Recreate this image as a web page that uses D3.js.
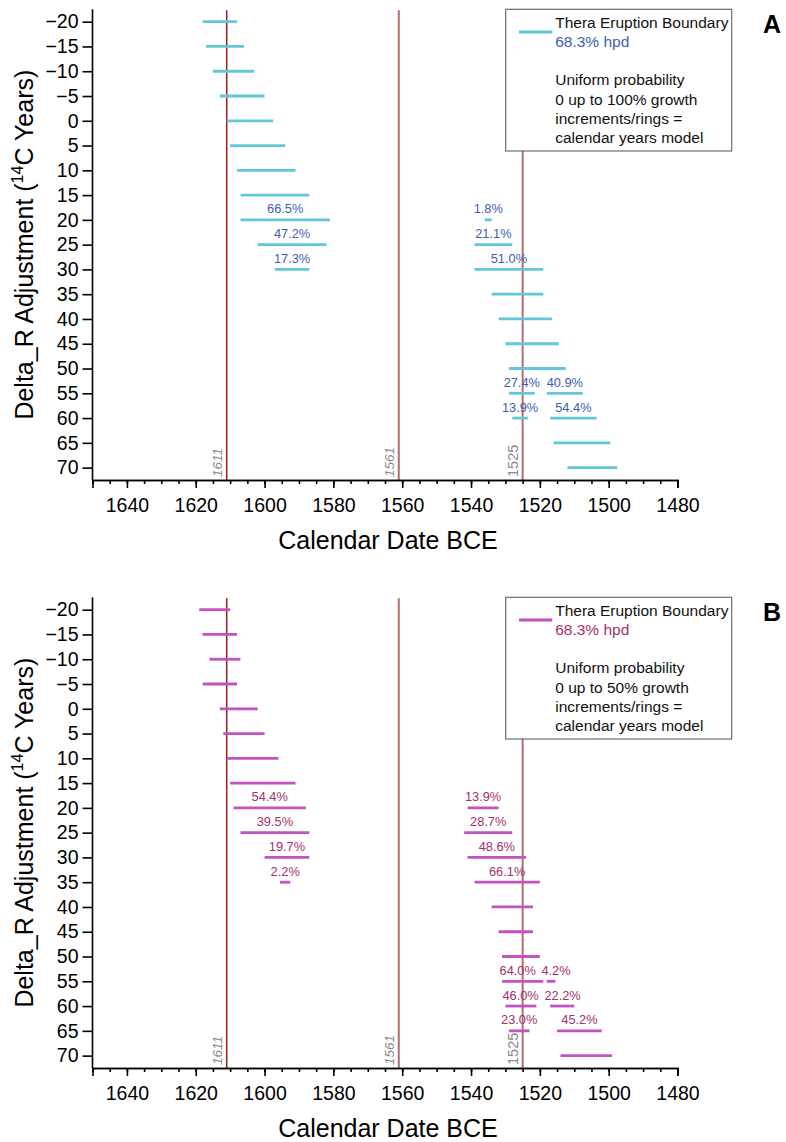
<!DOCTYPE html>
<html>
<head>
<meta charset="utf-8">
<script src="https://cdn.jsdelivr.net/npm/d3@7"></script>
<style>
  body { margin: 0; background: #fff; }
  svg { font-family: Arial, "Liberation Sans", sans-serif; }
</style>
</head>
<body>
<script>
// panel A: 0 up to 100% growth increments model
var aDeltaR = [-20, -15, -10, -5, 0, 5, 10, 15, 20, 20, 25, 25, 30, 30, 35, 40, 45, 50, 55, 55, 60, 60, 65, 70];
var aFrom   = [1618, 1617, 1615, 1613, 1611, 1610, 1608, 1607, 1607, 1536, 1602, 1539, 1597, 1539, 1534, 1532, 1530, 1529, 1529, 1518, 1528, 1517, 1516, 1512];
var aTo     = [1608, 1606, 1603, 1600, 1597.5, 1594, 1591, 1587, 1581, 1534, 1582, 1528, 1587, 1519, 1519, 1516.5, 1514.5, 1512.5, 1521.5, 1507.5, 1523.5, 1503.5, 1499.5, 1497.5];
var aPct    = ["", "", "", "", "", "", "", "", "66.5%", "1.8%", "47.2%", "21.1%", "17.3%", "51.0%", "", "", "", "", "27.4%", "40.9%", "13.9%", "54.4%", "", ""];

// panel B: 0 up to 50% growth increments model
var bDeltaR = [-20, -15, -10, -5, 0, 5, 10, 15, 20, 20, 25, 25, 30, 30, 35, 35, 40, 45, 50, 55, 55, 60, 60, 65, 65, 70];
var bFrom   = [1619, 1618, 1616, 1618, 1613, 1612, 1611, 1610, 1609, 1541, 1607, 1542, 1600, 1541, 1595.5, 1539, 1534, 1532, 1531, 1531, 1518, 1530, 1517, 1529, 1515, 1514];
var bTo     = [1610, 1608, 1607, 1608, 1602, 1600, 1596, 1591, 1588, 1532, 1587, 1528, 1587, 1524, 1592.5, 1520, 1522, 1522, 1520, 1519, 1515.5, 1521, 1510, 1523, 1502, 1499];
var bPct    = ["", "", "", "", "", "", "", "", "54.4%", "13.9%", "39.5%", "28.7%", "19.7%", "48.6%", "2.2%", "66.1%", "", "", "", "64.0%", "4.2%", "46.0%", "22.2%", "23.0%", "45.2%", ""];

var refYears = [1611, 1561, 1525];
var xTicks = [1640, 1620, 1600, 1580, 1560, 1540, 1520, 1500, 1480];
var yTicks = [-20, -15, -10, -5, 0, 5, 10, 15, 20, 25, 30, 35, 40, 45, 50, 55, 60, 65, 70];

var width = 786, height = 1142;
var left = 92.5, right = 677.5, plotH = 470.7;

var svg = d3.select("body").append("svg")
  .attr("width", width)
  .attr("height", height);

var x = d3.scaleLinear().domain([1650, 1480]).range([left, right]);

function drawPanel(top, letter, dr, from, to, pct, barColor, textColor, legendText) {
  var y = d3.scaleLinear().domain([-22.5, 72.5]).range([top, top + plotH]);
  var g = svg.append("g");

  // reference lines
  g.selectAll(".ref")
    .data(refYears)
    .enter()
  .append("line")
    .attr("x1", function(d){return x(d);})
    .attr("x2", function(d){return x(d);})
    .attr("y1", top + 1)
    .attr("y2", top + plotH)
    .attr("stroke", function(d){return d == 1611 ? "#9b1c1c" : "#b06e6e";})
    .attr("stroke-width", function(d){return d == 1611 ? 1.5 : 2;});

  g.selectAll(".reflabel")
    .data(refYears)
    .enter()
  .append("text")
    .attr("transform", function(d){return "translate(" + (x(d) - 5) + "," + (top + plotH - 3) + ") rotate(-90)";})
    .attr("fill", "#8a8a8a")
    .attr("font-size", function(d){return d == 1525 ? 14.5 : 13.5;})
    .attr("font-style", function(d){return d == 1525 ? "normal" : "italic";})
    .text(function(d){return d;});

  // hpd bars
  var idx = d3.range(dr.length);
  g.selectAll(".bar")
    .data(idx)
    .enter()
  .append("line")
    .attr("x1", function(i){return x(from[i]);})
    .attr("x2", function(i){return x(to[i]);})
    .attr("y1", function(i){return y(dr[i]);})
    .attr("y2", function(i){return y(dr[i]);})
    .attr("stroke", barColor)
    .attr("stroke-width", 2.8);

  // labels, centred on bars, pushed apart when they collide on a row
  var labs = idx.filter(function(i){return pct[i] != "";}).map(function(i){
    return {i: i, cx: (x(from[i]) + x(to[i])) / 2, w: pct[i].length * 7.4};
  });
  labs.forEach(function(a){
    labs.forEach(function(b){
      if (a.i < b.i && dr[a.i] == dr[b.i]) {
        var l = a.cx < b.cx ? a : b, r = a.cx < b.cx ? b : a;
        var ov = (l.cx + l.w / 2 + 5) - (r.cx - r.w / 2);
        if (ov > 0) { l.cx -= ov / 2; r.cx += ov / 2; }
      }
    });
  });
  g.selectAll(".pct")
    .data(labs)
    .enter()
  .append("text")
    .attr("x", function(d){return d.cx;})
    .attr("y", function(d){return y(dr[d.i]) - 6.5;})
    .attr("text-anchor", "middle")
    .attr("font-size", 12.8)
    .attr("fill", textColor)
    .text(function(d){return pct[d.i];});

  // axes
  var yAxis = g.append("g")
    .attr("transform", "translate(" + left + ",0)")
    .call(d3.axisLeft(y).tickValues(yTicks).tickSize(10).tickPadding(4)
      .tickFormat(function(d){return d < 0 ? "\u2212" + (-d) : d;}));
  var xMinor = g.append("g")
    .attr("transform", "translate(0," + (top + plotH) + ")")
    .call(d3.axisBottom(x).tickValues(d3.range(1650, 1479, -5)).tickSize(4).tickFormat(""));
  var xAxis = g.append("g")
    .attr("transform", "translate(0," + (top + plotH) + ")")
    .call(d3.axisBottom(x).tickValues(xTicks).tickSize(8).tickPadding(10).tickFormat(d3.format("d")));

  [yAxis, xMinor, xAxis].forEach(function(a){
    a.select(".domain").attr("stroke", "#000").attr("stroke-width", 1.6);
    a.selectAll(".tick line").attr("stroke", "#000").attr("stroke-width", 1.6);
    a.selectAll("text").attr("font-size", 19.5).attr("fill", "#000")
      .attr("font-family", "Arial, 'Liberation Sans', sans-serif");
  });
  yAxis.select(".domain").attr("d", "M0," + top + "V" + (top + plotH));

  g.append("text")
    .attr("x", (left + right) / 2 + 3)
    .attr("y", top + plotH + 69)
    .attr("text-anchor", "middle")
    .attr("font-size", 25)
    .text("Calendar Date BCE");

  var yt = g.append("text")
    .attr("transform", "translate(33," + (top + plotH / 2) + ") rotate(-90)")
    .attr("text-anchor", "middle")
    .attr("font-size", 25);
  yt.append("tspan").text("Delta_R Adjustment (");
  yt.append("tspan").attr("font-size", 16).attr("dy", -10).text("14");
  yt.append("tspan").attr("dy", 10).text("C Years)");

  // legend
  var lx = 505.7, ly = top;
  var lg = g.append("g").attr("transform", "translate(" + lx + "," + ly + ")");
  lg.append("rect")
    .attr("width", 226)
    .attr("height", 141.7)
    .attr("fill", "#fff")
    .attr("stroke", "#6e6e6e")
    .attr("stroke-width", 1.2);
  lg.append("line")
    .attr("x1", 13.3).attr("x2", 46.6)
    .attr("y1", 22.7).attr("y2", 22.7)
    .attr("stroke", barColor)
    .attr("stroke-width", 2.8);
  var lines = ["Thera Eruption Boundary", "68.3% hpd", "", "Uniform probability", legendText, "increments/rings =", "calendar years model"];
  lg.selectAll(".lt")
    .data(lines)
    .enter()
  .append("text")
    .attr("x", 49.5)
    .attr("y", function(d, i){return 18.5 + i * 19.2;})
    .attr("font-size", 15.5)
    .attr("fill", function(d, i){return i == 1 ? textColor : "#111";})
    .text(function(d){return d;});

  g.append("text")
    .attr("x", 763)
    .attr("y", top + 24)
    .attr("font-size", 25)
    .attr("font-weight", "bold")
    .text(letter);
}

drawPanel(9.3, "A", aDeltaR, aFrom, aTo, aPct, "#62c7d9", "#3c5eb4", "0 up to 100% growth");
drawPanel(597.3, "B", bDeltaR, bFrom, bTo, bPct, "#c452c0", "#a4306e", "0 up to 50% growth");
</script>
</body>
</html>
